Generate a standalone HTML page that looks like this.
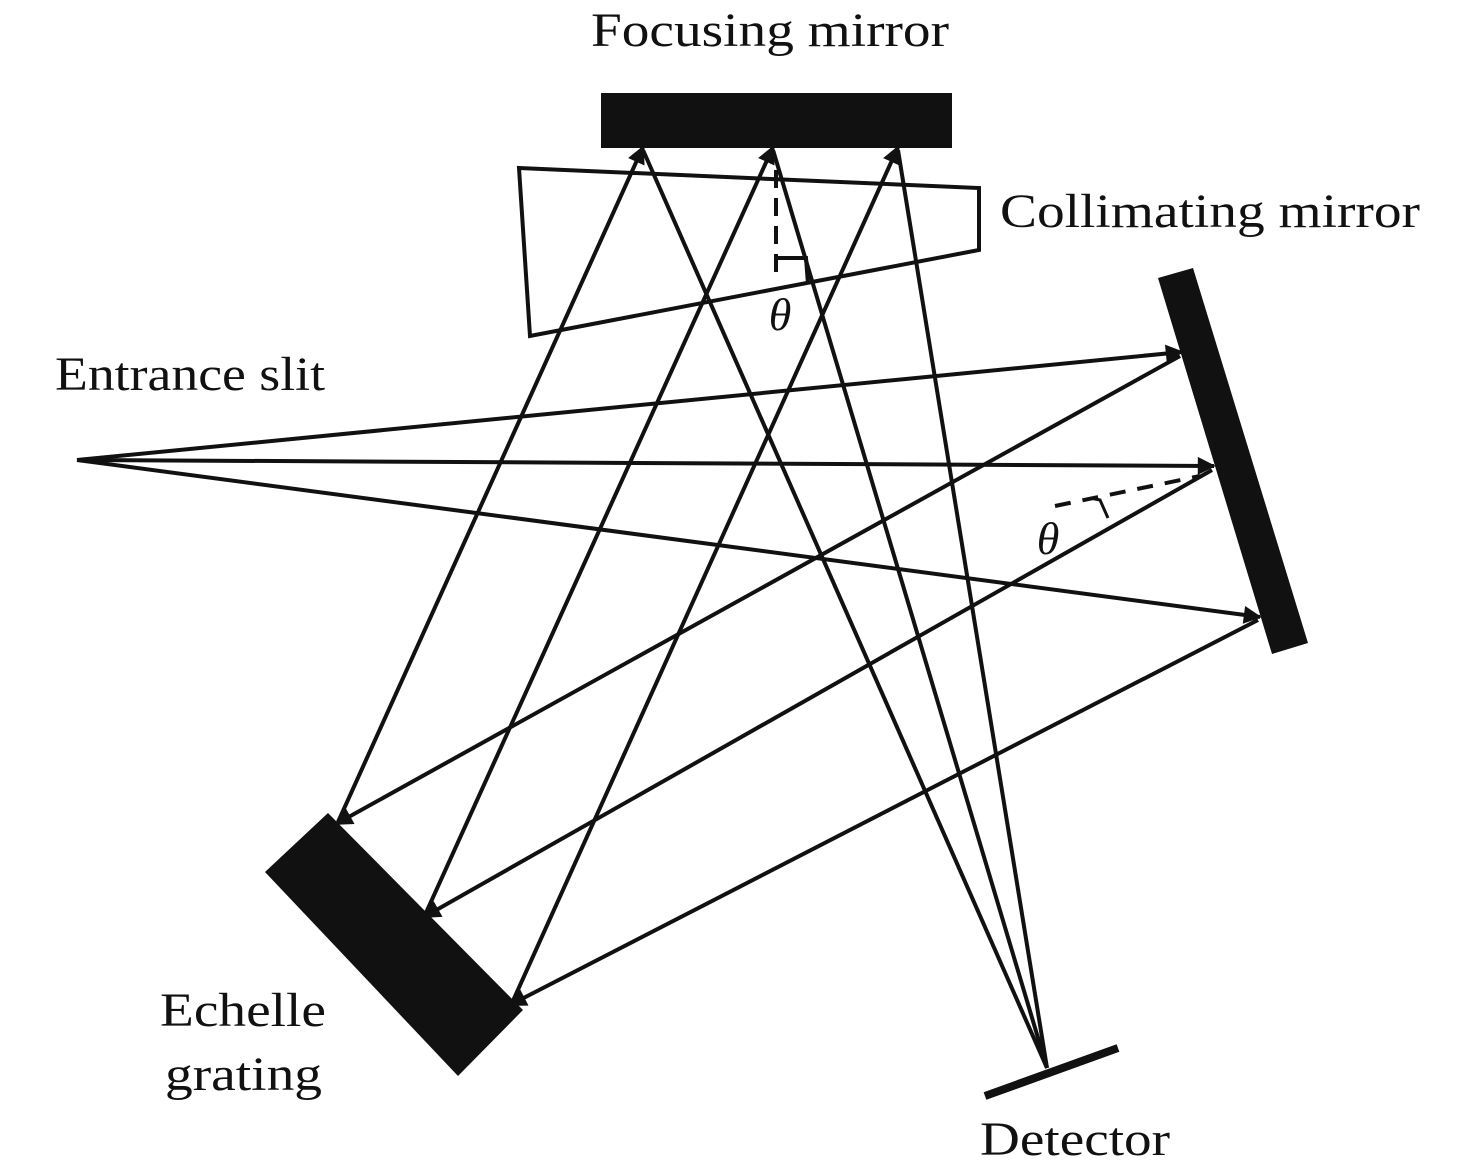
<!DOCTYPE html>
<html><head><meta charset="utf-8"><style>
html,body{margin:0;padding:0;background:#fff;}
svg{display:block;}
text{font-family:"Liberation Serif",serif;fill:#111;}
</style></head><body>
<svg width="1476" height="1173" viewBox="0 0 1476 1173" xmlns="http://www.w3.org/2000/svg">
<defs>
<marker id="b" viewBox="0 0 10 10" refX="9" refY="5" markerWidth="24" markerHeight="18" markerUnits="userSpaceOnUse" orient="auto">
<path d="M0,0 L10,5 L0,10 Z" fill="#111"/>
</marker>
</defs>
<rect x="601" y="93" width="351" height="55" fill="#111"/>
<polygon points="519,168 979,188 979,250 530,336" fill="none" stroke="#111" stroke-width="4"/>
<polygon points="1158,278 1193,268 1308,643 1272,654" fill="#111"/>
<polygon points="328,813 265,872 458,1076 523,1010" fill="#111"/>
<line x1="985" y1="1096" x2="1118" y2="1048" stroke="#111" stroke-width="8"/>
<g stroke="#111" stroke-width="4" fill="none">
<line x1="77" y1="460" x2="1182" y2="352" marker-end="url(#b)"/>
<line x1="77" y1="460" x2="1214" y2="466" marker-end="url(#b)"/>
<line x1="77" y1="460" x2="1260" y2="617" marker-end="url(#b)"/>
<line x1="1180" y1="356" x2="336" y2="824" marker-end="url(#b)"/>
<line x1="1212" y1="470" x2="424" y2="917" marker-end="url(#b)"/>
<line x1="1258" y1="620" x2="510" y2="1005" marker-end="url(#b)"/>
<line x1="338" y1="822" x2="643" y2="147" marker-end="url(#b)"/>
<line x1="425" y1="915" x2="773" y2="147" marker-end="url(#b)"/>
<line x1="512" y1="1003" x2="898" y2="147" marker-end="url(#b)"/>
<line x1="643" y1="150" x2="1047" y2="1068"/>
<line x1="773" y1="150" x2="1047" y2="1068"/>
<line x1="898" y1="150" x2="1047" y2="1068"/>
<line x1="776" y1="170" x2="776" y2="282" stroke-dasharray="18,10"/>
<polyline points="777,258 806,258 808,284"/>
<line x1="1055" y1="506" x2="1200" y2="476" stroke-dasharray="16,12"/>
<path d="M1090,498 L1100,500 L1108,518" stroke-width="3"/>
</g>
<text x="780" y="330" font-size="46" font-style="italic" text-anchor="middle">θ</text>
<text x="1048" y="554" font-size="46" font-style="italic" text-anchor="middle">θ</text>
<text x="591" y="46" font-size="48" textLength="358" lengthAdjust="spacingAndGlyphs">Focusing mirror</text>
<text x="1000" y="227" font-size="48" textLength="420" lengthAdjust="spacingAndGlyphs">Collimating mirror</text>
<text x="55" y="390" font-size="48" textLength="270" lengthAdjust="spacingAndGlyphs">Entrance slit</text>
<text x="160" y="1026" font-size="48" textLength="166" lengthAdjust="spacingAndGlyphs">Echelle</text>
<text x="165" y="1090" font-size="48" textLength="157" lengthAdjust="spacingAndGlyphs">grating</text>
<text x="980" y="1155" font-size="48" textLength="190" lengthAdjust="spacingAndGlyphs">Detector</text>
</svg>
</body></html>
